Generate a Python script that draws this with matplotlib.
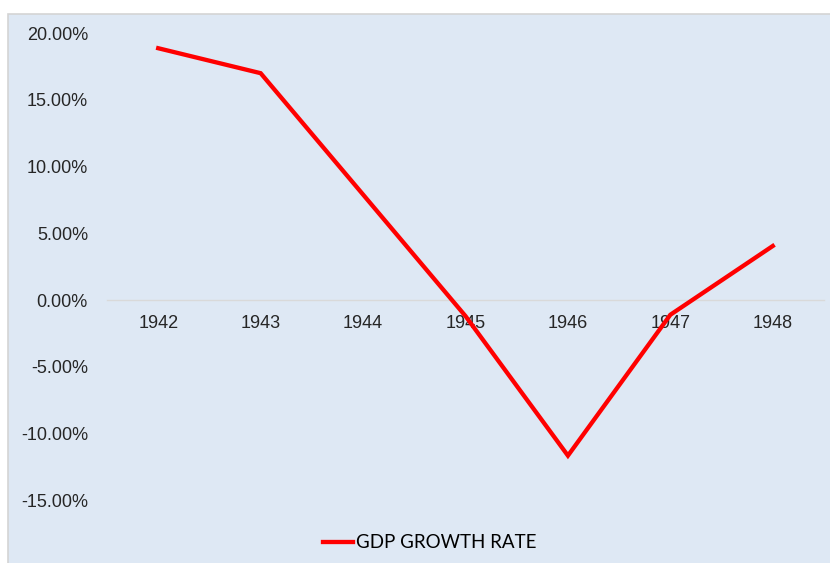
#!/usr/bin/env python3
"""
Lijngrafiek van de GDP-groei 1942-1948.
"""

import matplotlib

matplotlib.use("Agg")
import matplotlib.pyplot as plt
from matplotlib.patches import Rectangle
from matplotlib.ticker import FuncFormatter

# Data
jaren = ["1942", "1943", "1944", "1945", "1946", "1947", "1948"]
groei = [0.1886, 0.1699, 0.079, -0.012, -0.1165, -0.011, 0.0405]
y_ticks = [-0.15, -0.10, -0.05, 0.0, 0.05, 0.10, 0.15, 0.20]

W, H = 830, 563
fig = plt.figure(figsize=(W / 100, H / 100), dpi=100)
fig.patch.set_facecolor("white")

# Achtergrondvlak van de grafiek (met grijze rand)
fig.patches.append(
    Rectangle(
        (8 / W, -0.01), 1.0, 1 - 14 / H + 0.01,
        transform=fig.transFigure, facecolor="#DEE8F4", edgecolor="#D4D4D4", linewidth=1.2, zorder=0,
    )
)

ax = fig.add_axes([107 / W, 0, (824 - 107) / W, (H - 33) / H])
ax.set_zorder(2)
ax.patch.set_alpha(0)

x = list(range(len(jaren)))
ax.plot(x, groei, color="#FF0000", linewidth=3.1, solid_joinstyle="miter", label="GDP GROWTH RATE", zorder=3)

ax.set_xlim(-0.5, len(jaren) - 0.5)
ax.set_ylim(-0.1969, 0.20)

for side in ["top", "right", "left"]:
    ax.spines[side].set_visible(False)
ax.spines["bottom"].set_position(("data", 0))
ax.spines["bottom"].set_color("#D9D9D9")
ax.spines["bottom"].set_linewidth(1)

ax.set_xticks(x)
ax.set_xticklabels(jaren)
ax.set_yticks(y_ticks)
ax.yaxis.set_major_formatter(FuncFormatter(lambda v, _: f"{v * 100:.2f}%"))
ax.tick_params(axis="both", length=0, labelsize=13, labelcolor="#262626")
ax.tick_params(axis="x", pad=11)
ax.tick_params(axis="y", pad=13.7)
for lbl in ax.get_xticklabels() + ax.get_yticklabels():
    lbl.set_family("Liberation Sans")

leg = fig.legend(
    loc="center", bbox_to_anchor=(0.518, 1 - 543 / H), frameon=False,
    handlelength=1.6, handletextpad=0.15, prop={"family": "Lato", "size": 13.5},
)
leg.set_zorder(3)

fig.savefig("out.png", dpi=100, facecolor=fig.get_facecolor())
